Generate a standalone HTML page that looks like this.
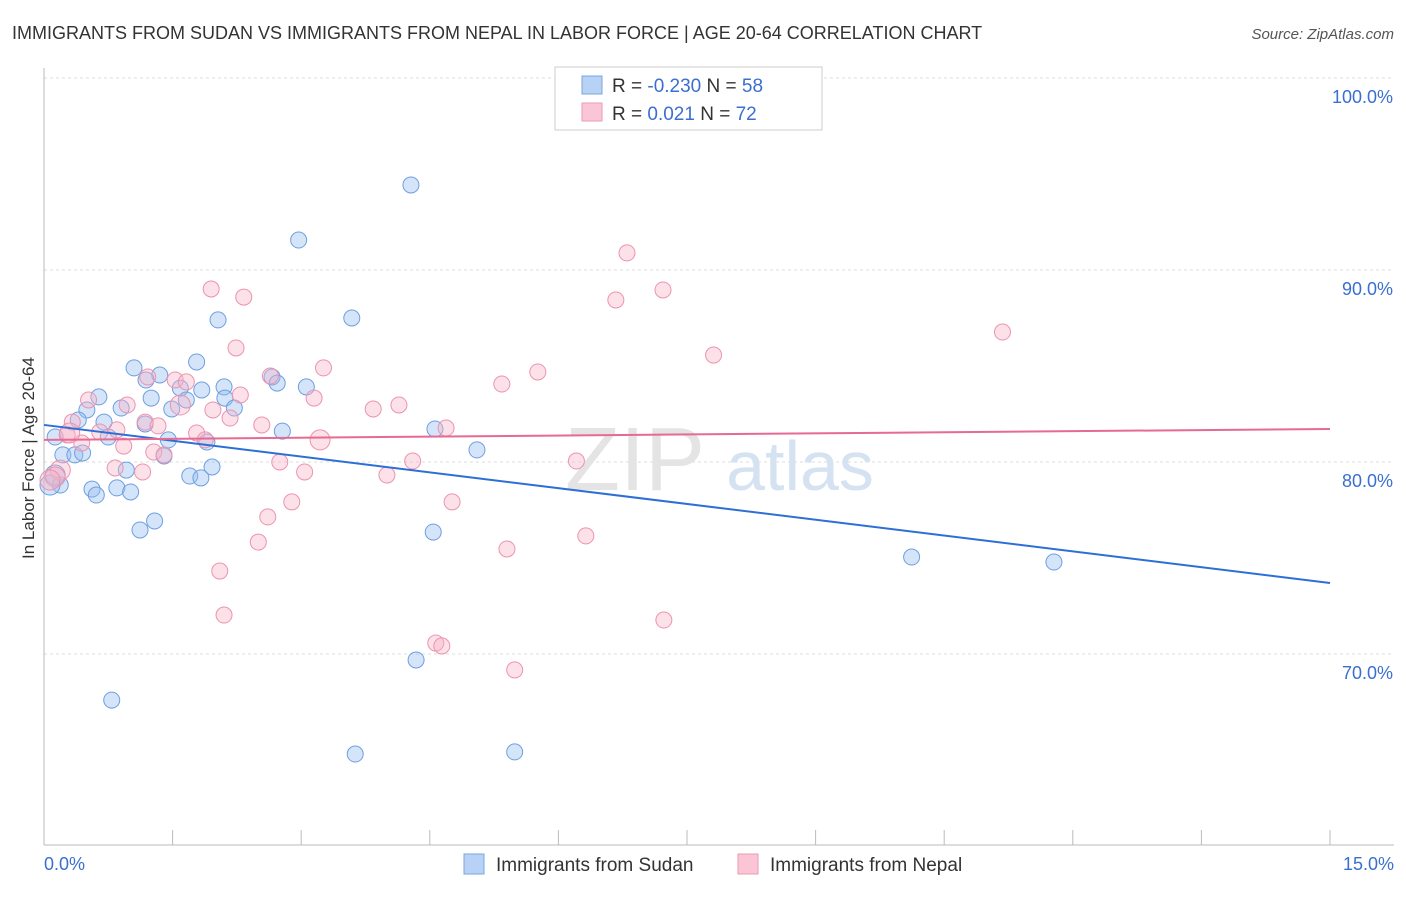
<!DOCTYPE html>
<html><head><meta charset="utf-8"><style>
body{margin:0;background:#fff;font-family:"Liberation Sans",sans-serif;}
svg text{font-family:"Liberation Sans",sans-serif;}
</style></head><body>
<svg id="chart" width="1406" height="892" xmlns="http://www.w3.org/2000/svg">
<text x="12" y="39" font-size="18" fill="#333">IMMIGRANTS FROM SUDAN VS IMMIGRANTS FROM NEPAL IN LABOR FORCE | AGE 20-64 CORRELATION CHART</text>
<text x="1394" y="39" font-size="15" fill="#555" text-anchor="end" font-style="italic">Source: ZipAtlas.com</text>
<text transform="translate(34,458) rotate(-90)" font-size="17" fill="#333" text-anchor="middle">In Labor Force | Age 20-64</text>
<g id="grid"></g>
<g id="watermark">
<text x="635" y="490" font-size="90" fill="#e4e4e4" font-family="Liberation Serif" text-anchor="middle">ZIP</text>
<text x="800" y="490" font-size="70" fill="#d5e2f2" text-anchor="middle">atlas</text></g>
<g id="points"></g>
<g id="trends"></g>
<g>
<rect x="555" y="67" width="267" height="63" fill="#fff" stroke="#ccc"/>
<rect x="582" y="76" width="20" height="18" fill="#b8d2f5" stroke="#7aa6e0"/>
<rect x="582" y="103" width="20" height="18" fill="#fac6d5" stroke="#ee9ab4"/>
<text x="612" y="92" font-size="19" fill="#333">R = <tspan fill="#3a6fd0">-0.230</tspan>   N = <tspan fill="#3a6fd0">58</tspan></text>
<text x="612" y="120" font-size="19" fill="#333">R =   <tspan fill="#3a6fd0">0.021</tspan>   N = <tspan fill="#3a6fd0">72</tspan></text>
</g>
<g>
<rect x="464" y="854" width="20" height="20" fill="#b8d2f5" stroke="#7aa6e0"/>
<text x="496" y="871" font-size="19" fill="#333">Immigrants from Sudan</text>
<rect x="738" y="854" width="20" height="20" fill="#fac6d5" stroke="#ee9ab4"/>
<text x="770" y="871" font-size="19" fill="#333">Immigrants from Nepal</text>
</g>
</svg>
<script>
const yTicks=[70,80,90,100];
const yTickLabels=["70.0%","80.0%","90.0%","100.0%"];
const xTickLabels=["0.0%","15.0%"];
const sudanX=[4.28,2.97,2.03,3.59,1.78,1.05,1.35,1.19,2.66,2.72,3.06,2.10,1.59,1.84,0.64,1.25,1.66,2.11,0.50,0.90,2.22,1.49,0.70,0.40,1.18,2.78,4.56,0.13,0.75,1.45,1.90,5.05,0.22,0.36,0.45,1.40,0.96,1.96,1.70,1.83,0.19,0.56,0.85,1.01,0.61,1.29,1.12,4.54,10.12,11.78,4.34,0.79,3.63,5.49,0.07,0.13];
const sudanY=[94.43,91.56,87.40,87.50,85.21,84.90,84.53,84.27,84.43,84.11,83.91,83.91,83.85,83.75,83.39,83.33,83.23,83.33,82.71,82.81,82.81,82.76,82.08,82.19,81.98,81.61,81.72,81.30,81.30,81.15,81.04,80.63,80.37,80.37,80.47,80.31,79.58,79.74,79.27,79.17,78.80,78.59,78.65,78.44,78.28,76.93,76.46,76.35,75.05,74.79,69.69,67.60,64.79,64.90,78.80,79.32];
const nepalX=[6.80,1.95,2.33,7.22,6.67,11.18,2.24,7.81,3.26,5.76,5.34,1.21,2.64,1.53,1.66,3.15,2.29,3.84,4.14,1.97,0.97,0.52,2.17,2.54,1.18,1.33,0.33,0.27,0.65,0.85,1.78,1.88,4.69,1.28,1.40,0.44,0.93,2.75,4.30,6.21,0.83,1.15,3.04,4.00,4.76,2.89,2.61,2.50,5.40,6.32,2.05,2.10,7.23,4.57,4.64,5.49,0.19,0.13,0.07,0.30,1.59,3.22];
const nepalY=[90.89,89.01,88.59,88.96,88.44,86.77,85.94,85.57,84.90,84.69,84.06,84.43,84.48,84.27,84.17,83.33,83.49,82.76,82.97,82.71,82.97,83.23,82.29,81.93,82.08,81.88,82.08,81.41,81.56,81.67,81.51,81.15,81.77,80.52,80.37,80.99,80.83,80.00,80.05,80.05,79.69,79.48,79.48,79.32,77.92,77.92,77.14,75.83,75.47,76.15,74.32,72.03,71.77,70.57,70.42,69.17,79.58,79.22,79.06,81.51,82.97,81.15];
const sudanTrend=[81.93,73.70];
const nepalTrend=[81.15,81.72];
const NS="http://www.w3.org/2000/svg";
const X=v=>44+v/15*1286, Y=v=>78+(100-v)*19.2;
function mk(t,a,p){const e=document.createElementNS(NS,t);for(const k in a)e.setAttribute(k,a[k]);p.appendChild(e);return e;}
const g=document.getElementById('grid');
yTicks.forEach((t,i)=>{
 const l=mk('line',{x1:44,x2:1394,y1:Y(t),y2:Y(t),stroke:'#ddd','stroke-dasharray':'3,3'},g);
 
 
 const tx=mk('text',{x:1393,y:Y(t)+25,'font-size':18,fill:'#3a6fd0','text-anchor':'end'},g);tx.textContent=yTickLabels[i];
 
 
});
mk('line',{x1:44,x2:44,y1:68,y2:845,stroke:'#bbb'},g);
mk('line',{x1:44,x2:1394,y1:845,y2:845,stroke:'#bbb'},g);
for(let i=1;i<=10;i++){const x=X(i*1.5);mk('line',{x1:x,x2:x,y1:830,y2:845,stroke:'#bbb'},g);}
[[0,'start',44],[15,'end',1394]].forEach((d,i)=>{const tx=mk('text',{x:d[2],y:870,'font-size':18,fill:'#3a6fd0','text-anchor':d[1]},g);tx.textContent=xTickLabels[i];
 
 });
const pg=document.getElementById('points');
sudanX.forEach((v,i)=>{const c=mk('circle',{cx:X(v),cy:Y(sudanY[i]),r:i>=54?10:8,fill:'rgba(150,190,240,0.4)',stroke:'#6e9fe0','stroke-width':1},pg);
 
 });
nepalX.forEach((v,i)=>{const c=mk('circle',{cx:X(v),cy:Y(nepalY[i]),r:i>=56?10:8,fill:'rgba(248,180,200,0.4)',stroke:'#ec93b0','stroke-width':1},pg);
 
 });
const tg=document.getElementById('trends');
const t1=mk('line',{x1:X(0),x2:X(15),y1:Y(sudanTrend[0]),y2:Y(sudanTrend[1]),stroke:'#2d6fd6','stroke-width':2},tg);


const t2=mk('line',{x1:X(0),x2:X(15),y1:Y(nepalTrend[0]),y2:Y(nepalTrend[1]),stroke:'#e56a94','stroke-width':2},tg);


</script>
</body></html>
